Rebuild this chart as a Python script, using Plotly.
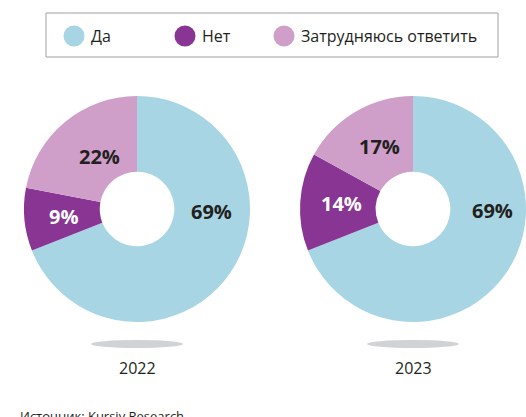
import plotly.graph_objects as go

labels = ["Да", "Нет", "Затрудняюсь ответить"]
colors = ["#A7D5E3", "#883594", "#CF9FCA"]
years = ["2022", "2023"]
values_2022 = [69, 9, 22]
values_2023 = [69, 14, 17]

W, H = 526, 417


def px(x):
    return x / W


def py(y):
    return 1 - y / H


fig = go.Figure()

# две кольцевые диаграммы
domains = [[px(24), px(250)], [px(300), px(526)]]
for vals, dom in zip([values_2022, values_2023], domains):
    fig.add_trace(go.Pie(
        labels=labels, values=vals, sort=False, direction="clockwise", rotation=0,
        hole=0.33, marker=dict(colors=colors, line=dict(width=0)),
        textinfo="none", hoverinfo="label+percent", showlegend=False,
        domain=dict(x=dom, y=[py(322), py(96)]),
    ))

annotations = []
# подписи процентов (позиции как на картинке)
label_pos = [
    [(211, 212), (63, 216), (99, 156)],
    [(492, 210), (341, 203), (379, 146)],
]
text_colors = ["#231F20", "#FFFFFF", "#231F20"]
for vals, pos in zip([values_2022, values_2023], label_pos):
    for v, (x, y), c in zip(vals, pos, text_colors):
        annotations.append(dict(
            x=px(x), y=py(y), xref="paper", yref="paper", showarrow=False,
            xanchor="center", yanchor="middle",
            text=f"<b>{v}%</b>", font=dict(family="Open Sans", size=20, color=c),
        ))

# тени и годы
shapes = []
for cx, yr in zip([137, 413], years):
    shapes.append(dict(type="circle", xref="paper", yref="paper",
                       x0=px(cx - 46), x1=px(cx + 46), y0=py(348), y1=py(340),
                       fillcolor="#D1D2D4", line=dict(width=0)))
    annotations.append(dict(x=px(cx), y=py(368), xref="paper", yref="paper",
                            xanchor="center", yanchor="middle",
                            showarrow=False, text=yr,
                            font=dict(family="Open Sans", size=16, color="#231F20")))

# легенда
shapes.append(dict(type="rect", xref="paper", yref="paper",
                   x0=px(46), x1=px(498), y0=py(57), y1=py(13),
                   line=dict(color="#A0A0A0", width=1), fillcolor="white"))
for lab, col, cx in zip(labels, colors, [74, 185, 284]):
    shapes.append(dict(type="circle", xref="paper", yref="paper",
                       x0=px(cx - 10.5), x1=px(cx + 10.5), y0=py(46.5), y1=py(25.5),
                       fillcolor=col, line=dict(width=0)))
    annotations.append(dict(x=px(cx + 15), y=py(36), xref="paper", yref="paper",
                            xanchor="left", yanchor="middle", showarrow=False, text=lab,
                            font=dict(family="Open Sans", size=16, color="#231F20")))

# источник (обрезан снизу, как в оригинале)
annotations.append(dict(x=px(18), y=py(405), xref="paper", yref="paper",
                        xanchor="left", yanchor="top", showarrow=False,
                        text="Источник: Kursiv Research",
                        font=dict(family="Open Sans", size=13, color="#231F20")))

fig.update_layout(
    width=W, height=H, margin=dict(l=0, r=0, t=0, b=0),
    paper_bgcolor="white", plot_bgcolor="white",
    shapes=shapes, annotations=annotations,
)

# убираем стандартный отступ body, чтобы фигура совпала с окном
fig.write_html("out.html", config={"displayModeBar": False},
               post_script="document.body.style.margin='0';document.body.style.overflow='hidden';")
